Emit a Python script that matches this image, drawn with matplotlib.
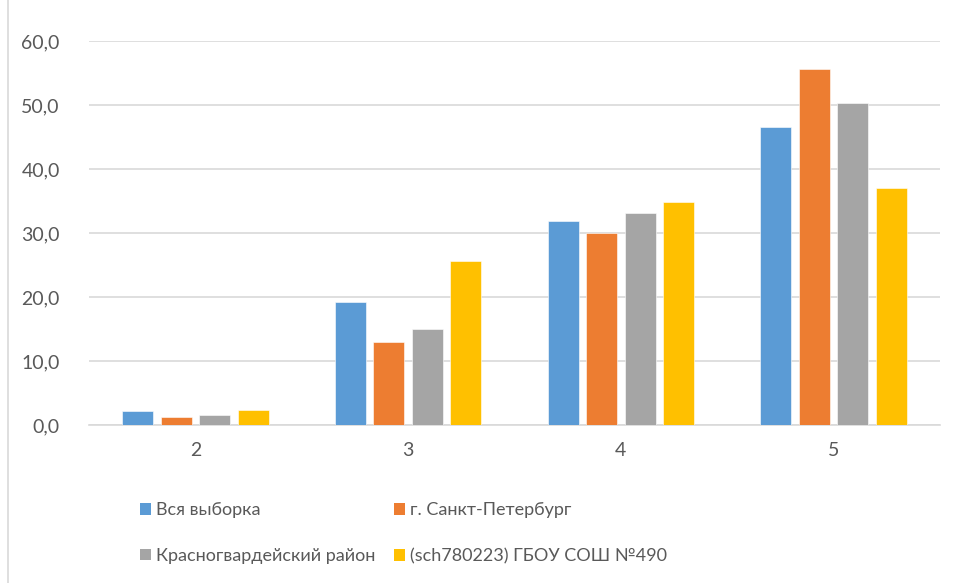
import numpy as np
import matplotlib.pyplot as plt
from matplotlib.patches import Patch
from matplotlib.lines import Line2D

categories = ['2', '3', '4', '5']
series_names = ['Вся выборка', 'г. Санкт-Петербург',
                'Красногвардейский район', '(sch780223) ГБОУ СОШ №490']
vsya = [2.2, 19.2, 31.8, 46.6]
spb = [1.2, 13.0, 30.0, 55.7]
raion = [1.5, 15.0, 33.1, 50.3]
school = [2.3, 25.6, 34.8, 37.1]
yticks = [0, 10, 20, 30, 40, 50, 60]
ytick_labels = ['0,0', '10,0', '20,0', '30,0', '40,0', '50,0', '60,0']

colors = ['#5B9BD5', '#ED7D31', '#A5A5A5', '#FFC000']
text_col = '#595959'

plt.rcParams['font.family'] = ['Lato', 'DejaVu Sans']

fig = plt.figure(figsize=(9.56, 5.83), dpi=100)
ax = fig.add_axes([89/956, 1 - 425/583, (940-89)/956, (425-41)/583])

x = np.arange(len(categories))
w = 0.146
step = 0.181
for k, vals in enumerate([vsya, spb, raion, school]):
    ax.bar(x + (k - 1.5) * step, vals, width=w, color=colors[k],
           edgecolor='white', linewidth=0.4, zorder=3)

ax.set_xlim(-0.5, 3.5)
ax.set_ylim(0, 60)
ax.set_yticks(yticks)
ax.set_yticklabels(ytick_labels)
ax.set_xticks(x)
ax.set_xticklabels(categories)
ax.grid(axis='y', color='#D9D9D9', linewidth=1.2, zorder=0)
for s in ['top', 'right', 'left']:
    ax.spines[s].set_visible(False)
ax.spines['bottom'].set_color('#D9D9D9')
ax.spines['bottom'].set_linewidth(1.2)
ax.tick_params(axis='both', length=0, colors=text_col, labelsize=14)
ax.tick_params(axis='y', pad=21)
ax.tick_params(axis='x', pad=12)

# legend filled row by row: matplotlib fills columns first, so reorder
order = [0, 2, 1, 3]
handles = [Patch(facecolor=colors[i], edgecolor='none') for i in order]
labels = [series_names[i] for i in order]
fig.legend(handles, labels, loc='upper left',
           bbox_to_anchor=(124/956, 1 - 486/583), ncol=2, frameon=False,
           fontsize=13, labelcolor=text_col, handlelength=0.6,
           handleheight=0.6, handletextpad=0.3, columnspacing=1.0,
           labelspacing=1.65)

# left border of chart frame
fig.add_artist(Line2D([8/956, 8/956], [0, 1], color='#D9D9D9', linewidth=1.2))

fig.savefig('out.png', dpi=100, facecolor='white')
